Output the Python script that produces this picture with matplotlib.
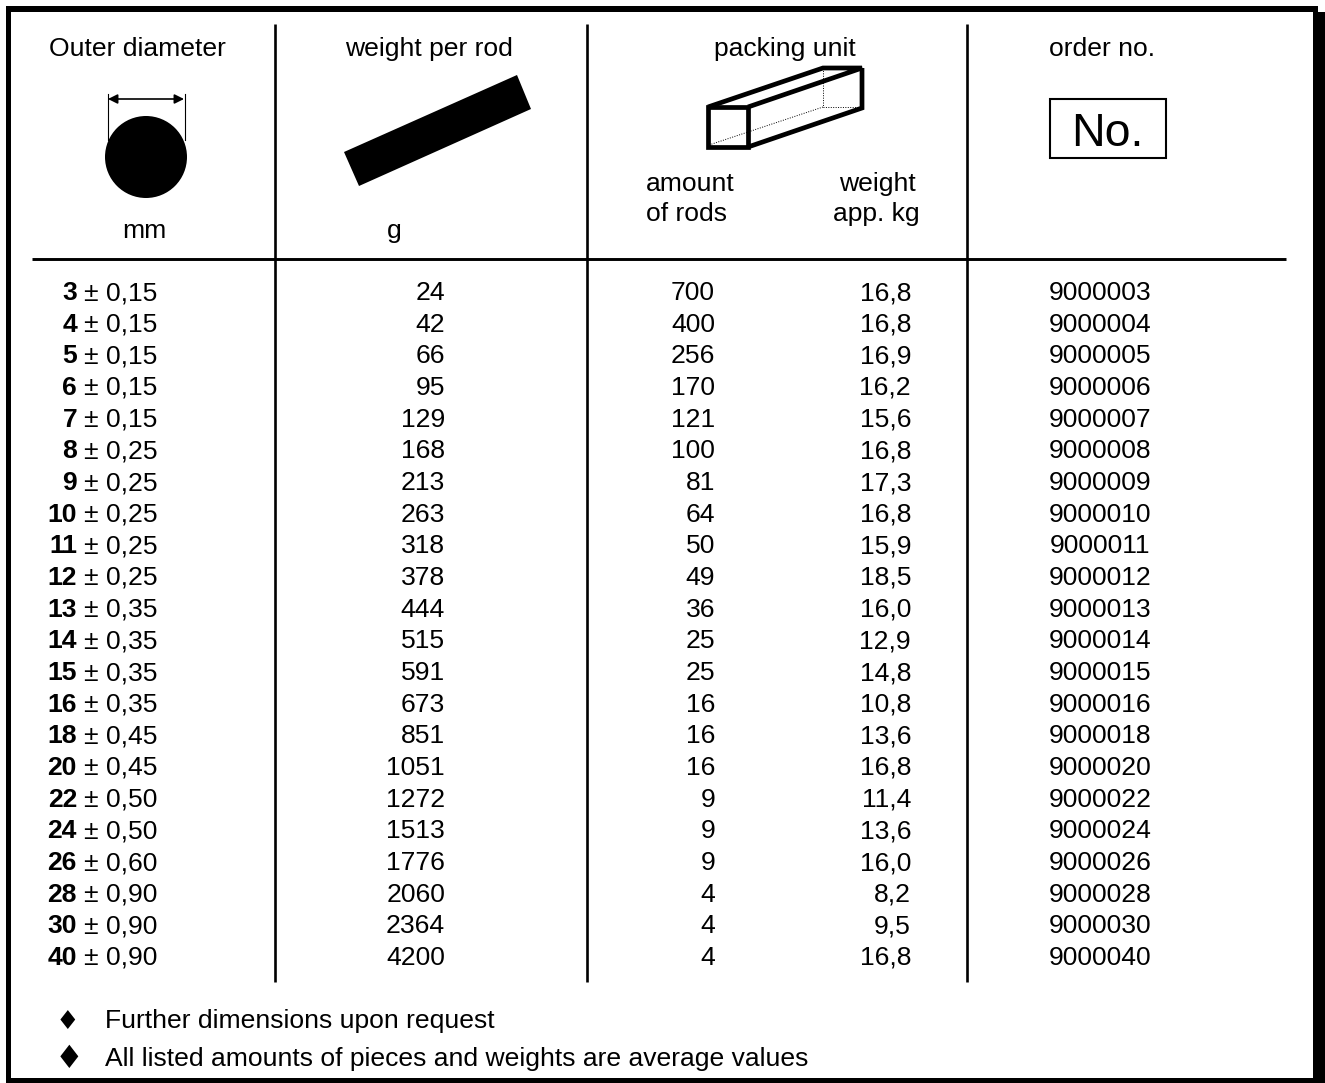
import matplotlib
matplotlib.use("Agg")
import matplotlib.pyplot as plt
from matplotlib.patches import Circle, Polygon, Rectangle

diameters = [3, 4, 5, 6, 7, 8, 9, 10, 11, 12, 13, 14, 15, 16, 18, 20, 22, 24, 26, 28, 30, 40]
tolerances = ["0,15", "0,15", "0,15", "0,15", "0,15", "0,25", "0,25", "0,25", "0,25", "0,25", "0,35",
              "0,35", "0,35", "0,35", "0,45", "0,45", "0,50", "0,50", "0,60", "0,90", "0,90", "0,90"]
rod_weights = [24, 42, 66, 95, 129, 168, 213, 263, 318, 378, 444, 515, 591, 673, 851, 1051, 1272, 1513,
               1776, 2060, 2364, 4200]
rod_amounts = [700, 400, 256, 170, 121, 100, 81, 64, 50, 49, 36, 25, 25, 16, 16, 16, 9, 9, 9, 4, 4, 4]
pack_weights = ["16,8", "16,8", "16,9", "16,2", "15,6", "16,8", "17,3", "16,8", "15,9", "18,5", "16,0",
                "12,9", "14,8", "10,8", "13,6", "16,8", "11,4", "13,6", "16,0", "8,2", "9,5", "16,8"]
order_nos = [9000003, 9000004, 9000005, 9000006, 9000007, 9000008, 9000009, 9000010, 9000011, 9000012,
             9000013, 9000014, 9000015, 9000016, 9000018, 9000020, 9000022, 9000024, 9000026, 9000028,
             9000030, 9000040]
notes = ["Further dimensions upon request", "All listed amounts of pieces and weights are average values"]

plt.rcParams['font.family'] = ['Liberation Sans', 'DejaVu Sans']
FS = 19.05

fig = plt.figure(figsize=(13.25, 10.83), dpi=100)
ax = fig.add_axes([0, 0, 1, 1])
ax.set_xlim(0, 1325)
ax.set_ylim(1083, 0)
ax.axis("off")

# outer frame, right side heavier
ax.add_patch(Rectangle((6, 6), 1312, 6, color="black", lw=0))
ax.add_patch(Rectangle((6, 6), 5, 1077, color="black", lw=0))
ax.add_patch(Rectangle((6, 1078), 1319, 5, color="black", lw=0))
ax.add_patch(Rectangle((1313, 12), 12, 1071, color="black", lw=0))

# table rules
for x in [275, 586.5, 967]:
    ax.plot([x, x], [24, 982], color="black", lw=1.9, solid_capstyle="butt")
ax.plot([32, 1286], [259, 259], color="black", lw=2.1, solid_capstyle="butt")

# header texts
ax.text(137, 56, "Outer diameter", fontsize=FS, ha="center")
ax.text(429, 56, "weight per rod", fontsize=FS, ha="center")
ax.text(785, 56, "packing unit", fontsize=FS, ha="center")
ax.text(1102, 56, "order no.", fontsize=FS, ha="center")
ax.text(144, 238, "mm", fontsize=FS, ha="center")
ax.text(394, 238, "g", fontsize=FS, ha="center")
ax.text(646, 191, "amount", fontsize=FS)
ax.text(646, 221, "of rods", fontsize=FS)
ax.text(877, 191, "weight", fontsize=FS, ha="center")
ax.text(876, 221, "app. kg", fontsize=FS, ha="center")

# diameter icon
ax.add_patch(Circle((146, 157), 41, color="black", lw=0))
ax.plot([107.5, 107.5], [94, 140], color="black", lw=0.8)
ax.plot([184.5, 184.5], [94, 140], color="black", lw=0.8)
ax.annotate("", xy=(108, 99), xytext=(184, 99),
            arrowprops=dict(arrowstyle="<|-|>", color="black", lw=1.2, shrinkA=0, shrinkB=0, mutation_scale=14))

# rod icon
ax.add_patch(Polygon([(344, 152), (517, 75), (531, 109), (359, 186)], closed=True, color="black", lw=0))

# box icon
box = dict(color="black", lw=3.4, solid_capstyle="butt", solid_joinstyle="miter")
ax.add_patch(Rectangle((708, 107), 40, 40, fill=False, ec="black", lw=3.4))
ax.plot([708, 823, 862, 748], [107, 68, 68, 107], **box)
ax.plot([862, 862, 748], [68, 108, 147], **box)
dots = dict(color="black", lw=0.7, ls=(0, (1, 1.5)))
ax.plot([823, 823], [68, 107], **dots)
ax.plot([823, 862], [107, 107], **dots)
ax.plot([823, 709], [107, 145], **dots)

# order number icon
ax.add_patch(Rectangle((1050, 99), 116, 59, fill=False, ec="black", lw=1.5))
ax.text(1107, 146, "No.", fontsize=33.5, ha="center")

# table rows
y0 = 300
step = (965 - 300) / 21
for i in range(len(diameters)):
    y = y0 + i * step
    ax.text(77, y, str(diameters[i]), fontsize=FS, fontweight="bold", ha="right")
    ax.text(83.5, y, "± " + tolerances[i], fontsize=FS, ha="left")
    ax.text(445, y, str(rod_weights[i]), fontsize=FS, ha="right")
    ax.text(715, y, str(rod_amounts[i]), fontsize=FS, ha="right")
    ax.text(911, y, pack_weights[i], fontsize=FS, ha="right")
    ax.text(1100, y, str(order_nos[i]), fontsize=FS, ha="center")

# notes, second bullet is a bit bigger in the original
ax.text(105, 1028, notes[0], fontsize=FS)
ax.text(105, 1066, notes[1], fontsize=FS)
ax.text(67.5, 1022, "♦", fontsize=19, ha="center", va="center", family="DejaVu Sans")
ax.text(69.5, 1060, "♦", fontsize=23, ha="center", va="center", family="DejaVu Sans")

fig.savefig("out.png", dpi=100)
